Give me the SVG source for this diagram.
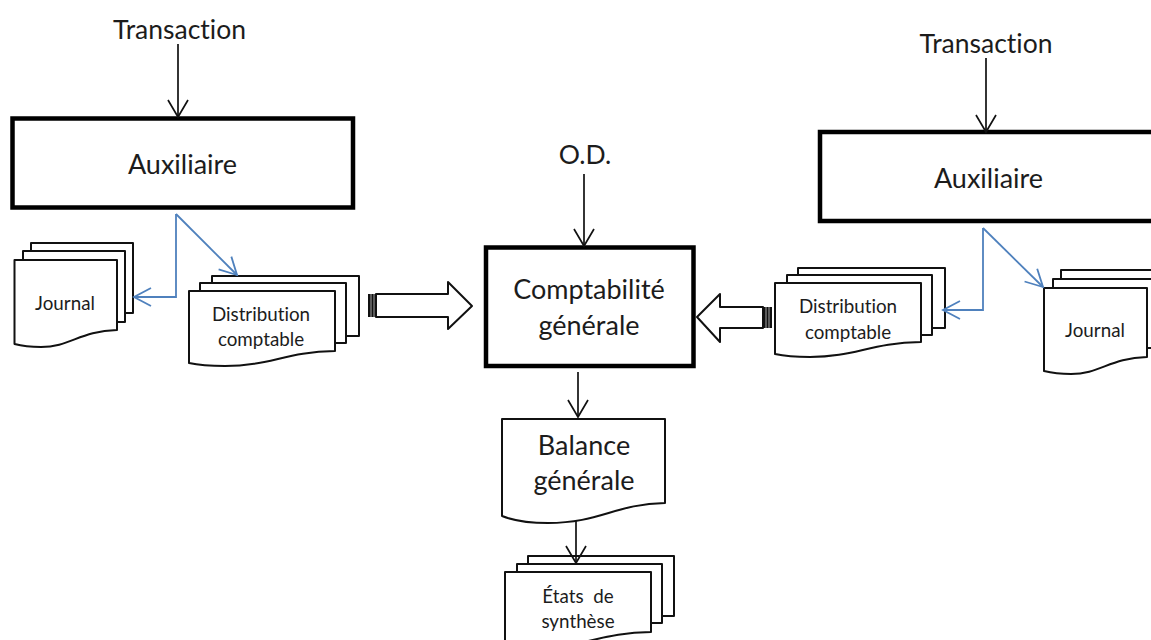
<svg xmlns="http://www.w3.org/2000/svg" width="1151" height="640" viewBox="0 0 1151 640">
<style>
text{font-family:"Lato","Open Sans","Liberation Sans",sans-serif;fill:#1c1c1c;text-anchor:middle;font-variant-ligatures:none}
.box{fill:#fff;stroke:#000;stroke-width:4.500}
.doc{fill:#fff;stroke:#111;stroke-width:2;stroke-linejoin:round}
.k{fill:none;stroke:#111;stroke-width:1.700}
.b{fill:none;stroke:#4f81bd;stroke-width:1.800}
.l{font-size:26.500px}.m{font-size:27px}.s{font-size:18.800px}
</style>
<defs>
<marker id="ka" markerUnits="userSpaceOnUse" markerWidth="32" markerHeight="24" refX="18" refY="12" orient="auto"><path d="M1 2 L18 12 L1 22" fill="none" stroke="#111" stroke-width="1.700"/></marker>
<marker id="ba" markerUnits="userSpaceOnUse" markerWidth="32" markerHeight="24" refX="18" refY="12" orient="auto"><path d="M1 3 L18 12 L1 21" fill="none" stroke="#4f81bd" stroke-width="1.800"/></marker>
</defs>
<rect width="1151" height="640" fill="#fff"/>
<g id="transaction-left"><text class="l" x="179.500" y="38.500">Transaction</text></g>
<g id="auxiliaire-left"><rect class="box" x="12.500" y="118.500" width="340.500" height="89"/><text class="m" x="182.500" y="174">Auxiliaire</text></g>
<g id="journal-left">
<path class="doc" d="M31 243H133V313H31Z"/><path class="doc" d="M23 251H125V322H23Z"/>
<path class="doc" d="M14.500 260H117V330C80 331 70 347 41 347C30 347 22 346 14.500 344Z"/>
<text class="s" x="65" y="309.500">Journal</text>
</g>
<g id="distribution-left">
<path class="doc" d="M212 276H359V336H212Z"/><path class="doc" d="M200 283H346V343H200Z"/>
<path class="doc" d="M189 291H335V351C285 352 270 366 225 366C210 366 198 365 189 363Z"/>
<text class="s" x="261" y="321">Distribution</text><text class="s" x="261" y="346">comptable</text>
</g>
<g id="flow-left">
<path d="M368 294H376V317H368Z" fill="#111"/><path d="M371 294V317M374 294V317" stroke="#ccc" stroke-width=".8"/>
<path class="doc" d="M376 294H448V282L472 306L448 329V317H376Z"/>
</g>
<g id="od"><text class="l" x="585" y="163.500">O.D.</text></g>
<g id="comptabilite"><rect class="box" x="486" y="247.500" width="207.500" height="118.500"/><text class="m" x="589" y="299">Comptabilité</text><text class="m" x="589" y="335">générale</text></g>
<g id="flow-right">
<path d="M763 307H772V328H763Z" fill="#111"/><path d="M766 307V328M769 307V328" stroke="#ccc" stroke-width=".8"/>
<path class="doc" d="M763 307H720V294L697 317L720 342V328H763Z"/>
</g>
<g id="distribution-right">
<path class="doc" d="M798 268H945V328H798Z"/><path class="doc" d="M787 275H932V335H787Z"/>
<path class="doc" d="M775 283H921V342C870 343 855 357 810 357C796 357 784 356 775 354Z"/>
<text class="s" x="848" y="313">Distribution</text><text class="s" x="848" y="338.500">comptable</text>
</g>
<g id="transaction-right"><text class="l" x="986" y="52.500">Transaction</text></g>
<g id="auxiliaire-right"><rect class="box" x="820" y="132" width="340" height="89"/><text class="m" x="988.500" y="187.500">Auxiliaire</text></g>
<g id="journal-right">
<path class="doc" d="M1061 270H1165V340H1061Z"/><path class="doc" d="M1053 279H1156V348H1053Z"/>
<path class="doc" d="M1044 288H1147V357C1110 358 1100 374 1071 374C1060 374 1052 373 1044 371Z"/>
<text class="s" x="1095" y="337">Journal</text>
</g>
<g id="balance"><path class="doc" d="M502 419H665V503C615 504 600 523 548 523C528 523 512 520 502 516Z"/><text class="m" x="584" y="455">Balance</text><text class="m" x="584" y="490">générale</text></g>
<g id="etats">
<path class="doc" d="M528 556H674V616H528Z"/><path class="doc" d="M517 564H662V623H517Z"/>
<path class="doc" d="M505 572H651V632C600 633 585 647 540 647C525 647 514 646 505 644Z"/>
<text class="s" x="578" y="603" xml:space="preserve">États  de</text><text class="s" x="578" y="628">synthèse</text>
</g>
<g id="connectors">
<path class="k" d="M178 44V117" marker-end="url(#ka)"/>
<path class="k" d="M986 58V132" marker-end="url(#ka)"/>
<path class="k" d="M584 174V246" marker-end="url(#ka)"/>
<path class="k" d="M578 372V417" marker-end="url(#ka)"/>
<path class="k" d="M576 520V563" marker-end="url(#ka)"/>
<path class="b" d="M176 214V297H134" marker-end="url(#ba)"/>
<path class="b" d="M176 214L237 275" marker-end="url(#ba)"/>
<path class="b" d="M983 228V310H943" marker-end="url(#ba)"/>
<path class="b" d="M983 228L1043 287" marker-end="url(#ba)"/>
</g>
</svg>
